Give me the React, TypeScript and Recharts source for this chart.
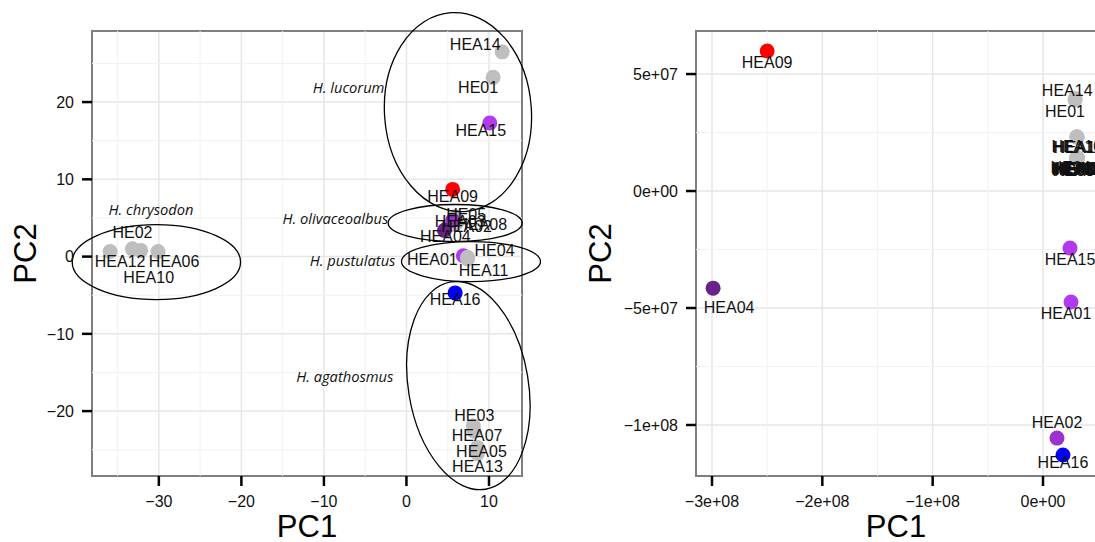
import React from "react";
import {
  ScatterChart,
  Scatter,
  XAxis,
  YAxis,
  CartesianGrid,
  ReferenceLine,
  ReferenceArea,
} from "recharts";

// sample order = drawing order (HEA01 sits under the grey points)
const samples = [
  "HEA01", "HE01", "HE02", "HE03", "HE04", "HE05", "HEA03", "HEA05", "HEA06", "HEA07", "HEA08",
  "HEA10", "HEA11", "HEA12", "HEA13", "HEA14", "HEA02", "HEA04", "HEA09", "HEA15", "HEA16",
];

// left panel scores
const pc1Small = [6.9, 10.5, -33.2, 8.1, 7.4, 5.9, 5.3, 8.6, -30.1, 8.2, 6.1, -32.2, 7.4, -35.9, 8.6, 11.6, 5.6, 4.6, 5.6, 10.1, 5.9];
const pc2Small = [0.1, 23.2, 1.0, -21.9, -0.1, 5.2, 4.1, -24.7, 0.65, -22.6, 4.4, 0.8, -0.3, 0.65, -25.5, 26.5, 4.7, 3.4, 8.7, 17.3, -4.7];

// right panel scores
const pc1Large = [2.54e7, 2.9e7, 3.06e7, 3.1e7, 3.04e7, 3.09e7, 3.12e7, 3.05e7, 3.1e7, 3.07e7, 3.11e7, 3.06e7, 3.08e7, 3.1e7, 3.08e7, 2.92e7, 1.27e7, -2.99e8, -2.5e8, 2.45e7, 1.81e7];
const pc2Large = [-4.74e7, 3.9e7, 1.42e7, 1.4e7, 1.43e7, 1.39e7, 1.41e7, 1.38e7, 1.42e7, 1.4e7, 1.39e7, 2.32e7, 1.41e7, 2.3e7, 2.31e7, 3.96e7, -1.056e8, -4.15e7, 5.98e7, -2.44e7, -1.128e8];

const ticksSmallX = [-30, -20, -10, 0, 10];
const ticksSmallY = [-20, -10, 0, 10, 20];
const minorSmallX = [-35, -25, -15, -5, 5];
const minorSmallY = [-25, -15, -5, 5, 15, 25];
const ticksLargeX = [-3e8, -2e8, -1e8, 0];
const ticksLargeY = [-1e8, -5e7, 0, 5e7];
const minorLargeX = [-2.5e8, -1.5e8, -0.5e8];
const minorLargeY = [-7.5e7, -2.5e7, 2.5e7];

// species annotations on the left panel (text end point, data units)
const speciesNames = ["H. lucorum", "H. olivaceoalbus", "H. pustulatus", "H. agathosmus", "H. chrysodon"];
const speciesX = [-2.67, -2.2, -1.33, -1.58, -25.8];
const speciesY = [22.0, 5.05, -0.39, -15.4, 6.1];

// group ellipses (centre + radii in data units, tilt in degrees)
const ellipseX = [6.24, 5.9, 7.82, 7.5, -30.3];
const ellipseY = [18.7, 4.34, -0.65, -16.7, -0.71];
const ellipseRx = [8.9, 8.12, 8.42, 7.27, 10.2];
const ellipseRy = [12.9, 2.4, 2.59, 13.6, 4.85];
const ellipseTilt = [-4, 0, 0, -9.5, 0];

const GREY = "#BEBEBE";
const colorOf: Record<string, string> = {
  HEA01: "#B23AEE",
  HEA02: "#9A32CD",
  HEA04: "#68228B",
  HEA09: "#FF0000",
  HEA15: "#B23AEE",
  HEA16: "#0000FF",
};

const offsetSmall: Record<string, [number, number]> = {
  HEA01: [-31, 4], HE01: [-15, 10], HE02: [0, -16], HE03: [1, -10], HE04: [27, -7], HE05: [11, -2],
  HEA03: [10, -3], HEA05: [4, 4], HEA06: [16, 10], HEA07: [3, 4], HEA08: [25, 2], HEA10: [8, 27],
  HEA11: [16, 12], HEA12: [10, 10], HEA13: [0, 13], HEA14: [-27, -7], HEA02: [14, 6], HEA04: [1, 6],
  HEA09: [0, 7], HEA15: [-9, 8], HEA16: [0, 7],
};
const offsetLarge: Record<string, [number, number]> = {
  HEA14: [-8, -8], HE01: [-10, 12], HEA04: [16, 19], HEA01: [-5, 12], HEA02: [0, -16], HEA16: [0, 8],
  HEA09: [0, 11], HEA15: [0, 11], HEA10: [0, 10], HEA12: [2, 10], HEA13: [1, 11],
  HE02: [-4, 11], HE03: [-2, 11], HE04: [-6, 10], HE05: [-3, 12], HEA03: [2, 11], HEA05: [0, 10],
  HEA06: [3, 11], HEA07: [1, 12], HEA08: [4, 10], HEA11: [-1, 11],
};

const FONT = "'Liberation Sans', Arial, Helvetica, sans-serif";
const H = 542;
const TOP = 31;
const X_AXIS_H = 66;
const PLOT_H = H - TOP - X_AXIS_H;

const small = { width: 560, right: 38, yw: 92, x: [-38.1, 14.0], y: [-28.4, 29.2] };
const large = { width: 546, right: 30, yw: 116, x: [-3.145e8, 0.4805e8], y: [-1.218e8, 6.84e7] };

const smallData = samples.map((name, i) => ({ name, x: pc1Small[i], y: pc2Small[i] }));
const largeData = samples.map((name, i) => ({ name, x: pc1Large[i], y: pc2Large[i] }));
const speciesData = speciesNames.map((name, i) => ({ name, x: speciesX[i], y: speciesY[i] }));
const ellipseData = ellipseX.map((x, i) => ({ x, y: ellipseY[i], rx: ellipseRx[i], ry: ellipseRy[i], tilt: ellipseTilt[i] }));

const fmtSmall = (v: number) => (v < 0 ? `\u2212${Math.abs(v)}` : `${v}`);
const fmtLarge = (v: number) => {
  if (v === 0) return "0e+00";
  const e = Math.floor(Math.log10(Math.abs(v)));
  const m = Math.round(Math.abs(v) / Math.pow(10, e));
  return `${v < 0 ? "\u2212" : ""}${m}e+${String(e).padStart(2, "0")}`;
};

const pointShape = (p: any) => (
  <circle cx={p.cx} cy={p.cy} r={7.5} fill={colorOf[p.payload.name] ?? GREY} />
);

const labelShape = (offsets: Record<string, [number, number]>) => (p: any) => {
  const [dx, dy] = offsets[p.payload.name] ?? [0, 10];
  return (
    <text
      x={p.cx + dx}
      y={p.cy + dy}
      textAnchor="middle"
      dominantBaseline="central"
      fontFamily={FONT}
      fontSize={16}
      fill="#111"
    >
      {p.payload.name}
    </text>
  );
};

const speciesShape = (p: any) => (
  <text
    x={p.cx}
    y={p.cy}
    textAnchor="end"
    dominantBaseline="central"
    fontFamily="'Open Sans', sans-serif"
    fontStyle="italic"
    fontSize={14.7}
    fill="#111"
  >
    {p.payload.name}
  </text>
);

const smallPlotW = small.width - small.right - small.yw;
const kx = smallPlotW / (small.x[1] - small.x[0]);
const ky = PLOT_H / (small.y[1] - small.y[0]);

const ellipseShape = (p: any) => {
  const { cx, cy, payload } = p;
  return (
    <ellipse
      cx={cx}
      cy={cy}
      rx={payload.rx * kx}
      ry={payload.ry * ky}
      transform={`rotate(${payload.tilt} ${cx} ${cy})`}
      fill="none"
      stroke="#000"
      strokeWidth={1.3}
    />
  );
};

const xTitle = (p: any) => {
  const vb = p.viewBox;
  return (
    <text x={vb.x + vb.width / 2} y={vb.y + 61} textAnchor="middle" fontFamily={FONT} fontSize={31} fill="#000">
      PC1
    </text>
  );
};

const yTitle = (dx: number) => (p: any) => {
  const vb = p.viewBox;
  const cx = vb.x + dx;
  const cy = vb.y + vb.height / 2;
  return (
    <text
      x={cx}
      y={cy}
      transform={`rotate(-90 ${cx} ${cy})`}
      textAnchor="middle"
      dominantBaseline="central"
      fontFamily={FONT}
      fontSize={31}
      fill="#000"
    >
      PC2
    </text>
  );
};

const tickStyle = { fill: "#111", fontSize: 16, fontFamily: FONT };
const tickLine = { stroke: "#000", strokeWidth: 2.5 };

function Panel({
  cfg,
  xTicks,
  yTicks,
  xMinor,
  yMinor,
  fmt,
  data,
  offsets,
  yTitleX,
  extra,
}: any) {
  return (
    <ScatterChart width={cfg.width} height={H} margin={{ top: TOP, right: cfg.right, bottom: 0, left: 0 }}>
      <CartesianGrid stroke="#E6E6E6" strokeWidth={1.5} />
      {xMinor.map((v: number) => (
        <ReferenceLine key={`mx${v}`} x={v} stroke="#F2F2F2" strokeWidth={1} />
      ))}
      {yMinor.map((v: number) => (
        <ReferenceLine key={`my${v}`} y={v} stroke="#F2F2F2" strokeWidth={1} />
      ))}
      <XAxis
        type="number"
        dataKey="x"
        domain={cfg.x}
        ticks={xTicks}
        tickFormatter={fmt}
        height={X_AXIS_H}
        axisLine={false}
        tickLine={tickLine}
        tickSize={10}
        tickMargin={10}
        tick={tickStyle}
        label={xTitle}
      />
      <YAxis
        type="number"
        dataKey="y"
        domain={cfg.y}
        ticks={yTicks}
        tickFormatter={fmt}
        width={cfg.yw}
        axisLine={false}
        tickLine={tickLine}
        tickSize={10}
        tickMargin={8}
        tick={tickStyle}
        label={yTitle(yTitleX)}
      />
      <ReferenceArea
        x1={cfg.x[0]}
        x2={cfg.x[1]}
        y1={cfg.y[0]}
        y2={cfg.y[1]}
        fill="none"
        stroke="#7F7F7F"
        strokeWidth={2}
        ifOverflow="visible"
      />
      <Scatter data={data} shape={pointShape} isAnimationActive={false} />
      <Scatter data={data} shape={labelShape(offsets)} isAnimationActive={false} />
      {extra}
    </ScatterChart>
  );
}

export default function App() {
  return (
    <div
      style={{
        position: "absolute",
        left: 0,
        top: 0,
        width: 1095,
        height: H,
        overflow: "hidden",
        background: "#fff",
      }}
    >
      <div style={{ position: "absolute", left: 0, top: 0 }}>
        <Panel
          cfg={small}
          xTicks={ticksSmallX}
          yTicks={ticksSmallY}
          xMinor={minorSmallX}
          yMinor={minorSmallY}
          fmt={fmtSmall}
          data={smallData}
          offsets={offsetSmall}
          yTitleX={25}
          extra={[
            <Scatter key="sp" data={speciesData} shape={speciesShape} isAnimationActive={false} />,
            <Scatter key="el" data={ellipseData} shape={ellipseShape} isAnimationActive={false} />,
          ]}
        />
      </div>
      <div style={{ position: "absolute", left: 580, top: 0 }}>
        <Panel
          cfg={large}
          xTicks={ticksLargeX}
          yTicks={ticksLargeY}
          xMinor={minorLargeX}
          yMinor={minorLargeY}
          fmt={fmtLarge}
          data={largeData}
          offsets={offsetLarge}
          yTitleX={20}
          extra={null}
        />
      </div>
    </div>
  );
}
